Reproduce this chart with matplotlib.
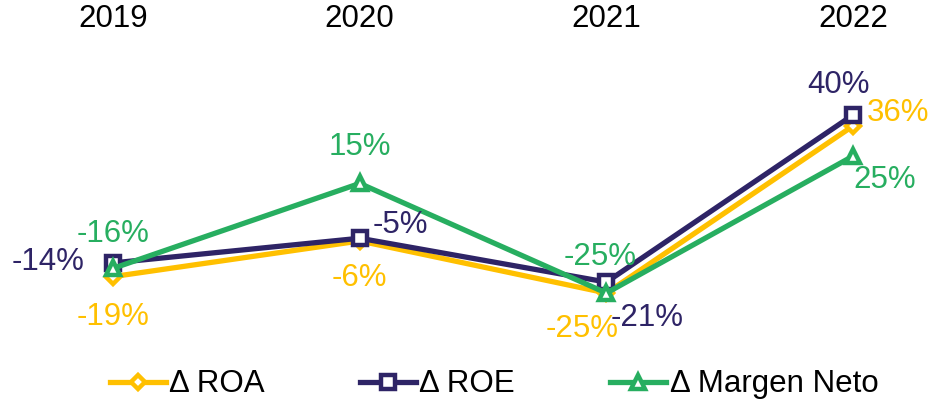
"""
Variation of ROA, ROE and net margin per year.
"""

import matplotlib.pyplot as plt

plt.rcParams['font.family'] = ['Liberation Sans', 'DejaVu Sans']

years = ['2019', '2020', '2021', '2022']
roa = [-19, -6, -25, 36]
roe = [-14, -5, -21, 40]
margen = [-16, 15, -25, 25]

YELLOW = '#FFC000'
NAVY = '#2E2466'
GREEN = '#27AE60'

# label offsets in pixels (dx, dy)
roa_off = [(0, -40), (0, -37), (-24, -36), (45, 13)]
roe_off = [(-65, 1), (41, 13), (41, -36), (-15, 30)]
margen_off = [(0, 34), (0, 36), (-6, 36), (32, -24)]

series = [
    ('\u0394 ROA', roa, YELLOW, 'D', 7, roa_off),
    ('\u0394 ROE', roe, NAVY, 's', 10, roe_off),
    ('\u0394 Margen Neto', margen, GREEN, '^', 10, margen_off),
]

fig = plt.figure(figsize=(9.4, 4.04), dpi=100)
ax = fig.add_axes([0, 0.1213, 1, 0.7673])
x = list(range(len(years)))

for name, vals, color, marker, ms, offs in series:
    ax.plot(x, vals, color=color, lw=3.8, marker=marker, ms=ms,
            mfc='white', mec=color, mew=3.2, label=name,
            solid_joinstyle='round')
    for xi, v, (dx, dy) in zip(x, vals, offs):
        ax.annotate('%d%%' % v, (xi, v), xytext=(dx, dy),
                    textcoords='offset pixels', ha='center', va='center',
                    color=color, fontsize=22.5)

ax.set_xlim(-0.458, 3.352)
ax.set_ylim(-47.6, 65.5)
ax.xaxis.tick_top()
ax.set_xticks(x)
ax.set_xticklabels(years, fontsize=22.5)
ax.tick_params(axis='x', length=0, pad=8)
ax.set_yticks([])
for s in ax.spines.values():
    s.set_visible(False)

ax.legend(loc='center', bbox_to_anchor=(0.5255, -0.095), ncol=3,
          frameon=False, fontsize=22.5, handlelength=1.8, handletextpad=0.1,
          columnspacing=3.05)

fig.savefig('out.png', dpi=100)
